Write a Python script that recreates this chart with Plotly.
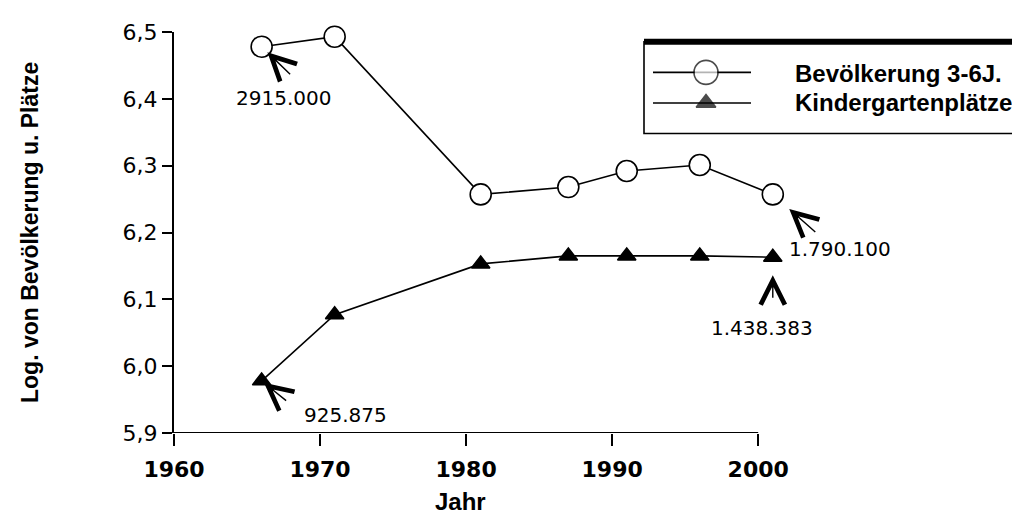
import plotly.graph_objects as go

# ---------------- data ----------------
years = [1966, 1971, 1981, 1987, 1991, 1996, 2001]
bevoelkerung_log = [6.478, 6.493, 6.257, 6.268, 6.292, 6.301, 6.257]
kindergarten_log = [5.978, 6.077, 6.153, 6.165, 6.165, 6.165, 6.163]
series_names = ["Bevölkerung 3-6J.", "Kindergartenplätze"]

bev_first_label = "2915.000"
bev_last_label = "1.790.100"
kiga_first_label = "925.875"
kiga_last_label = "1.438.383"

x_tickvals = [1960, 1970, 1980, 1990, 2000]
x_ticktext = ["1960", "1970", "1980", "1990", "2000"]
y_tickvals = [5.9, 6.0, 6.1, 6.2, 6.3, 6.4, 6.5]
y_ticktext = ["5,9", "6,0", "6,1", "6,2", "6,3", "6,4", "6,5"]

x_title = "Jahr"
y_title = "Log. von Bevölkerung u. Plätze"

# ---------------- layout geometry (pixels) ----------------
W, H = 1020, 513
L, R, T, B = 166, 794, 18, 425


def pxx(X):
    return (X - L) / (R - L)


def pxy(Y):
    return (B - Y) / (B - T)


BLACK = "#000000"
num_font = dict(family="DejaVu Sans", size=20, color=BLACK)

fig = go.Figure()

fig.add_trace(go.Scatter(
    x=years, y=bevoelkerung_log, mode="lines+markers", name=series_names[0],
    line=dict(color=BLACK, width=1.6),
    marker=dict(symbol="circle", size=21, color="white", line=dict(color=BLACK, width=1.6)),
    cliponaxis=False, showlegend=False,
))
fig.add_trace(go.Scatter(
    x=years, y=kindergarten_log, mode="lines+markers", name=series_names[1],
    line=dict(color=BLACK, width=1.6),
    marker=dict(symbol="triangle-up", size=16, color=BLACK, line=dict(color=BLACK, width=1.5)),
    cliponaxis=False, showlegend=False,
))

# legend key markers (on a pixel overlay axis)
fig.add_trace(go.Scatter(
    x=[698, 698], y=[59, 90], mode="markers", xaxis="x2", yaxis="y2",
    marker=dict(symbol=["circle", "triangle-up"], size=[24, 17], color=["white", BLACK],
                line=dict(color=BLACK, width=1.6)),
    cliponaxis=False, showlegend=False, hoverinfo="skip",
))

shapes = [
    # x axis line from 1960 to 2000
    dict(type="line", xref="x", yref="y", x0=x_tickvals[0], x1=x_tickvals[-1],
         y0=y_tickvals[0], y1=y_tickvals[0], line=dict(color=BLACK, width=2)),
    # legend box
    dict(type="rect", xref="paper", yref="paper", x0=pxx(636), x1=pxx(1024),
         y0=pxy(121), y1=pxy(28), line=dict(color=BLACK, width=1.6), fillcolor="white", layer="below"),
    dict(type="line", xref="paper", yref="paper", x0=pxx(636), x1=pxx(1024),
         y0=pxy(28), y1=pxy(28), line=dict(color=BLACK, width=6), layer="below"),
    dict(type="line", xref="paper", yref="paper", x0=pxx(645), x1=pxx(743),
         y0=pxy(59), y1=pxy(59), line=dict(color=BLACK, width=1.6), layer="below"),
    dict(type="line", xref="paper", yref="paper", x0=pxx(645), x1=pxx(743),
         y0=pxy(90), y1=pxy(90), line=dict(color=BLACK, width=1.6), layer="below"),
]

arrow = dict(text="", showarrow=True, arrowhead=5, arrowsize=3.4, arrowwidth=1.4,
             arrowcolor=BLACK, xref="x", yref="y")
annotations = [
    dict(x=years[0], y=bevoelkerung_log[0], ax=30, ay=29, standoff=8, **arrow),
    dict(x=years[0], y=kindergarten_log[0], ax=26, ay=21, standoff=3, **arrow),
    dict(x=years[-1], y=bevoelkerung_log[-1], ax=44, ay=39, standoff=22, **arrow),
    dict(x=years[-1], y=kindergarten_log[-1], ax=0, ay=42, standoff=18, **arrow),
    dict(x=years[0], y=bevoelkerung_log[0], text=bev_first_label, showarrow=False,
         xshift=22, yshift=-51, font=num_font),
    dict(x=years[0], y=kindergarten_log[0], text=kiga_first_label, showarrow=False,
         xshift=84, yshift=-34, font=num_font),
    dict(x=years[-1], y=bevoelkerung_log[-1], text=bev_last_label, showarrow=False,
         xanchor="left", xshift=14, yshift=-55, font=num_font),
    dict(x=years[-1], y=kindergarten_log[-1], text=kiga_last_label, showarrow=False,
         xshift=-11, yshift=-71, font=num_font),
    # legend texts
    dict(xref="paper", yref="paper", x=pxx(785), y=pxy(60), text=series_names[0],
         showarrow=False, xanchor="left", yanchor="middle",
         font=dict(family="Liberation Sans", size=24, color=BLACK, weight="bold")),
    dict(xref="paper", yref="paper", x=pxx(785), y=pxy(90), text=series_names[1],
         showarrow=False, xanchor="left", yanchor="middle",
         font=dict(family="Liberation Sans", size=24, color=BLACK, weight="bold")),
    # axis titles
    dict(xref="paper", yref="paper", x=pxx(452), y=pxy(495), text=x_title,
         showarrow=False, xanchor="center", yanchor="middle",
         font=dict(family="Liberation Sans", size=24, color=BLACK, weight="bold")),
    dict(xref="paper", yref="paper", x=pxx(22), y=pxy(222), text=y_title, textangle=-90,
         showarrow=False, xanchor="center", yanchor="middle",
         font=dict(family="Liberation Sans", size=23, color=BLACK, weight="bold")),
]

fig.update_layout(
    width=W, height=H,
    margin=dict(l=L, r=W - R, t=T, b=H - B, pad=0),
    paper_bgcolor="white", plot_bgcolor="white",
    xaxis=dict(range=[1960, 2003], tickvals=x_tickvals, ticktext=x_ticktext,
               showgrid=False, zeroline=False, showline=False,
               ticks="outside", ticklen=12, tickwidth=2, tickcolor=BLACK,
               ticklabelstandoff=5,
               tickfont=dict(family="DejaVu Sans", size=22, color=BLACK, weight="bold")),
    yaxis=dict(range=[5.9, 6.5], tickvals=y_tickvals, ticktext=y_ticktext,
               showgrid=False, zeroline=False, showline=True, linecolor=BLACK, linewidth=2,
               ticks="outside", ticklen=10, tickwidth=2, tickcolor=BLACK,
               tickfont=dict(family="DejaVu Sans", size=22, color=BLACK)),
    xaxis2=dict(overlaying="x", range=[L, R], visible=False),
    yaxis2=dict(overlaying="y", range=[B, T], visible=False),
    shapes=shapes,
    annotations=annotations,
    showlegend=False,
)

fig.write_html("out.html")
